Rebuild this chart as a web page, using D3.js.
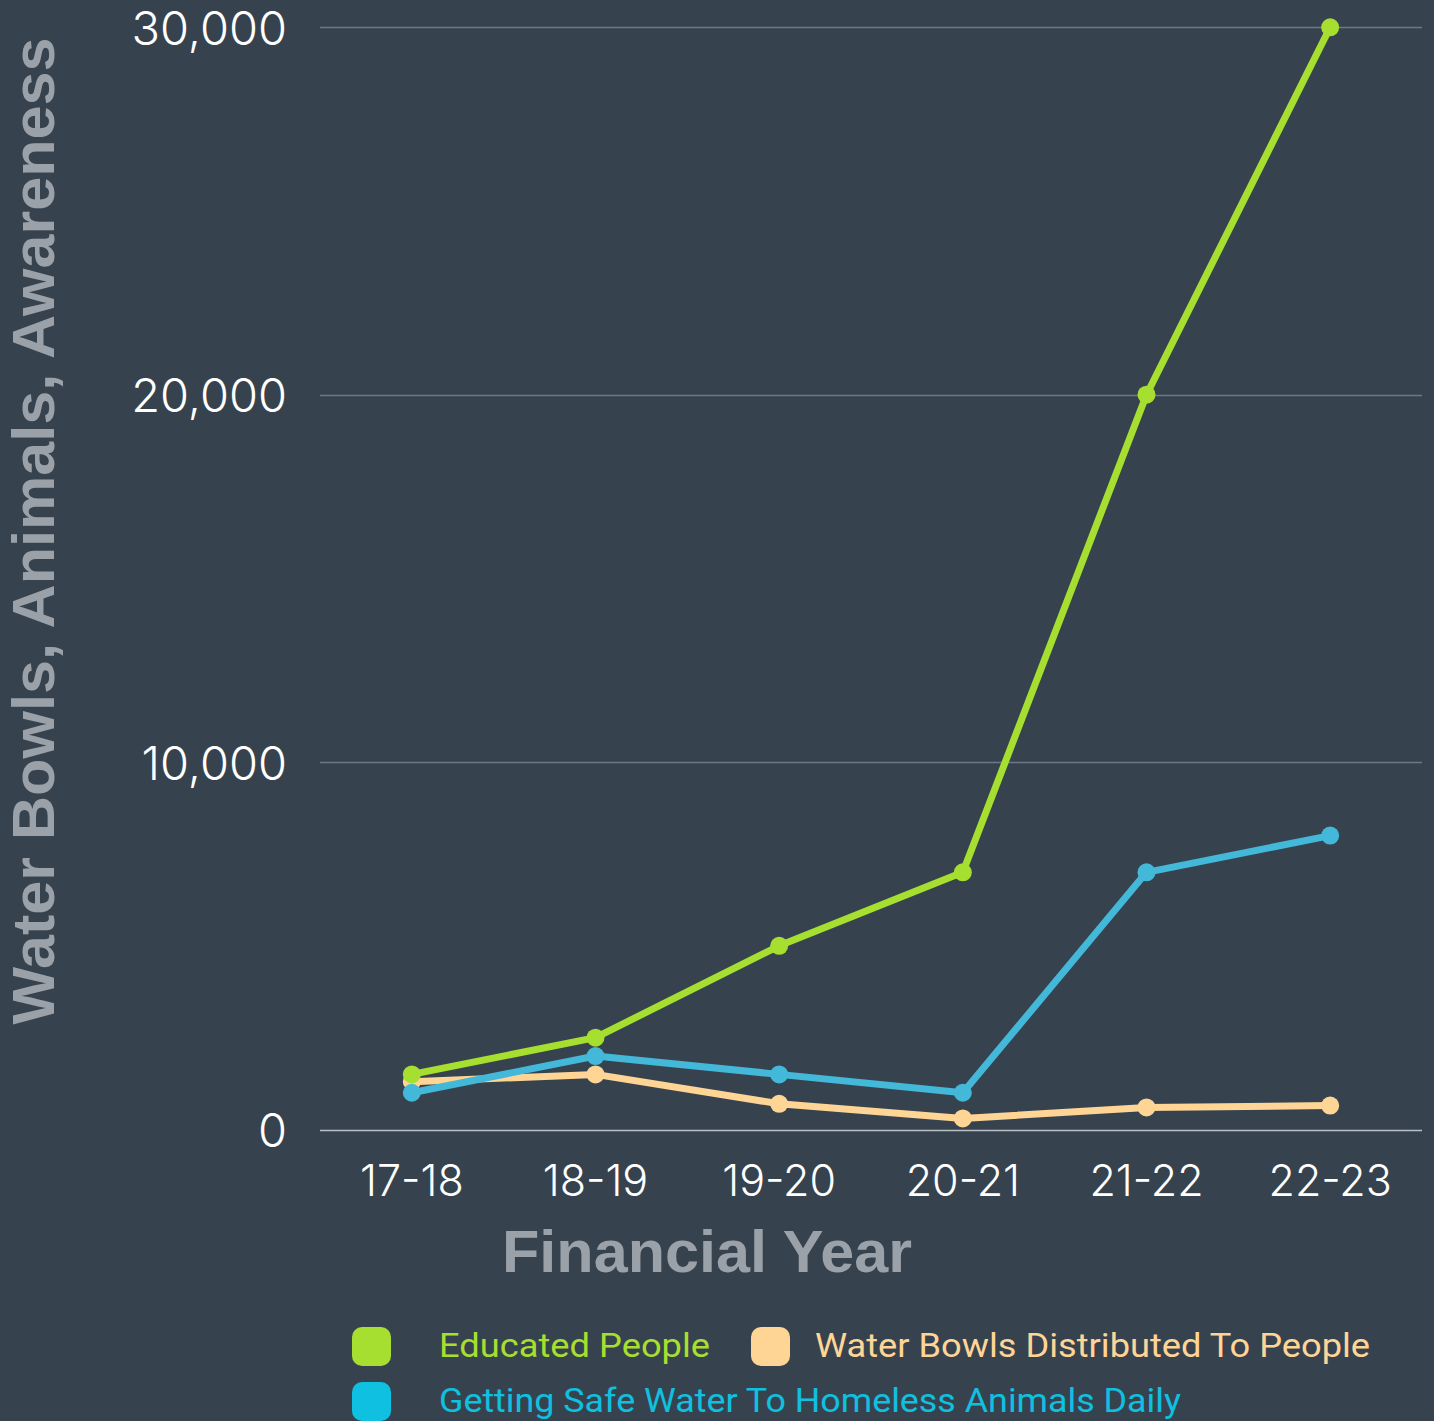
<!DOCTYPE html>
<html>
<head>
<meta charset="utf-8">
<script src="https://cdn.jsdelivr.net/npm/d3@7"></script>
<style>
html,body{margin:0;padding:0;background:#36434f;}
svg{display:block;}
</style>
</head>
<body>
<svg id="chart" width="1434" height="1421"></svg>
<script>
const categories = ["17-18", "18-19", "19-20", "20-21", "21-22", "22-23"];
const educatedPeople = [1500, 2500, 5000, 7000, 20000, 30000];
const waterBowls = [1300, 1500, 700, 300, 600, 650];
const safeWaterAnimals = [1000, 2000, 1500, 1000, 7000, 8000];
const yTicks = [0, 10000, 20000, 30000];
const seriesNames = ["Educated People", "Water Bowls Distributed To People", "Getting Safe Water To Homeless Animals Daily"];
const lineColors = ["#a6df2f", "#ffd596", "#43b8d8"];
const legendColors = ["#a6df2f", "#ffd596", "#0fc0e0"];

const svg = d3.select("#chart");
svg.append("rect").attr("width", 1434).attr("height", 1421).attr("fill", "#36434f");

const x = d3.scaleBand().domain(categories).range([320, 1422]);
const y = d3.scaleLinear().domain([0, 30000]).range([1129.5, 27.3]);

const yAxis = d3.axisLeft(y).tickValues(yTicks).tickFormat(d3.format(",")).tickSize(0).tickPadding(0);
const gy = svg.append("g").attr("transform", "translate(287,0)").call(yAxis);
gy.select(".domain").remove();
gy.selectAll("text").attr("fill", "#ffffff").attr("font-family", "Inter, 'DejaVu Sans', sans-serif")
  .attr("font-weight", 300).attr("font-size", 47).attr("dy", "0.36em").attr("text-anchor", "end");

svg.append("g").selectAll("line").data(yTicks).join("line")
  .attr("x1", 320).attr("x2", 1422)
  .attr("y1", d => Math.round(y(d)) + 0.5).attr("y2", d => Math.round(y(d)) + 0.5)
  .attr("stroke", d => d === 0 ? "#b9bfc5" : "#6d7984").attr("stroke-width", 1.5);

const xAxis = d3.axisBottom(x).tickSize(0).tickPadding(0);
const gx = svg.append("g").attr("transform", "translate(0,1196)").call(xAxis);
gx.select(".domain").remove();
gx.selectAll("text").attr("fill", "#ffffff").attr("font-family", "Inter, 'DejaVu Sans', sans-serif")
  .attr("font-weight", 300).attr("font-size", 43).attr("dy", 0);

svg.append("text").attr("x", 707).attr("y", 1272).attr("text-anchor", "middle")
  .attr("font-family", "'Liberation Sans', Arial, sans-serif").attr("font-weight", "bold")
  .attr("font-size", 60).attr("fill", "#9ba1a9")
  .attr("textLength", 410).attr("lengthAdjust", "spacingAndGlyphs")
  .text("Financial Year");

svg.append("text").attr("transform", "translate(54,531) rotate(-90)").attr("text-anchor", "middle")
  .attr("font-family", "'Liberation Sans', Arial, sans-serif").attr("font-weight", "bold")
  .attr("font-size", 59).attr("fill", "#9ba1a9")
  .attr("textLength", 987).attr("lengthAdjust", "spacingAndGlyphs")
  .text("Water Bowls, Animals, Awareness");

const seriesData = [educatedPeople, waterBowls, safeWaterAnimals];
const drawOrder = [1, 2, 0];
const line = d3.line().x((d, i) => x(categories[i]) + x.bandwidth() / 2).y(d => y(d));
drawOrder.forEach(si => {
  const g = svg.append("g");
  g.append("path").datum(seriesData[si]).attr("d", line).attr("fill", "none")
    .attr("stroke", lineColors[si]).attr("stroke-width", 7).attr("stroke-linejoin", "round");
  g.selectAll("circle").data(seriesData[si]).join("circle")
    .attr("cx", (d, i) => x(categories[i]) + x.bandwidth() / 2)
    .attr("cy", d => y(d)).attr("r", 9).attr("fill", lineColors[si]);
});

const legendItems = [
  {i: 0, sx: 352, sy: 1327, tx: 439, ty: 1357, w: 271},
  {i: 1, sx: 751, sy: 1327, tx: 815, ty: 1357, w: 555},
  {i: 2, sx: 352, sy: 1382, tx: 439, ty: 1412, w: 742}
];
const lg = svg.append("g");
legendItems.forEach(it => {
  lg.append("rect").attr("x", it.sx).attr("y", it.sy).attr("width", 39).attr("height", 39)
    .attr("rx", 10).attr("fill", legendColors[it.i]);
  lg.append("text").attr("x", it.tx).attr("y", it.ty).attr("fill", legendColors[it.i])
    .attr("font-family", "Roboto, Inter, sans-serif").attr("font-size", 33)
    .attr("textLength", it.w).attr("lengthAdjust", "spacingAndGlyphs")
    .text(seriesNames[it.i]);
});
</script>
</body>
</html>
